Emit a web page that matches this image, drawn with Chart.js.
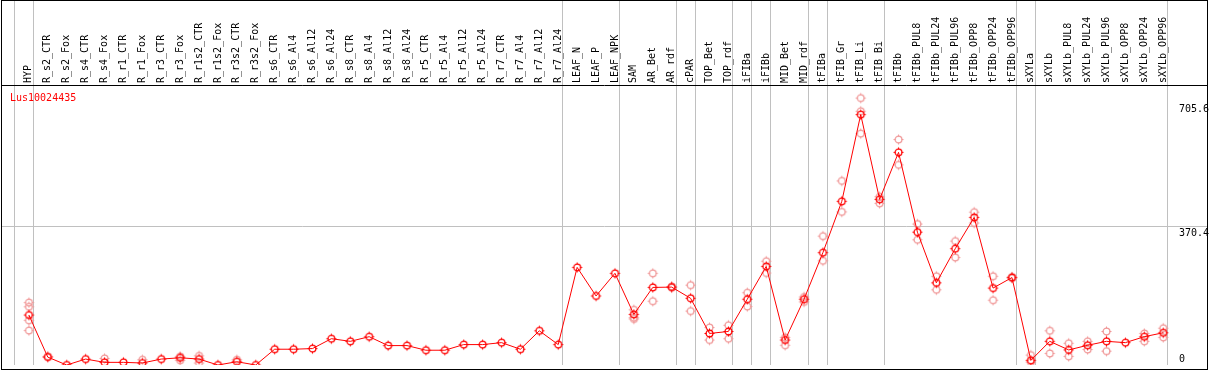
<!DOCTYPE html>
<html>
<head>
<meta charset="utf-8">
<script src="https://cdn.jsdelivr.net/npm/chart.js@4"></script>
<style>
  html, body { margin: 0; padding: 0; background: #fff; }
  #wrap { width: 1209px; height: 370px; }
</style>
</head>
<body>
<div id="wrap"><canvas id="exprChart"></canvas></div>
<script>
// Sample names (one per column)
const categories = [
  'HYP', 'R_s2_CTR', 'R_s2_Fox', 'R_s4_CTR', 'R_s4_Fox', 'R_r1_CTR', 'R_r1_Fox', 'R_r3_CTR', 'R_r3_Fox',
  'R_r1s2_CTR', 'R_r1s2_Fox', 'R_r3s2_CTR', 'R_r3s2_Fox', 'R_s6_CTR', 'R_s6_Al4', 'R_s6_Al12', 'R_s6_Al24',
  'R_s8_CTR', 'R_s8_Al4', 'R_s8_Al12', 'R_s8_Al24', 'R_r5_CTR', 'R_r5_Al4', 'R_r5_Al12', 'R_r5_Al24',
  'R_r7_CTR', 'R_r7_Al4', 'R_r7_Al12', 'R_r7_Al24', 'LEAF_N', 'LEAF_P', 'LEAF_NPK', 'SAM', 'AR_Bet', 'AR_rdf',
  'cPAR', 'TOP_Bet', 'TOP_rdf', 'iFIBa', 'iFIBb', 'MID_Bet', 'MID_rdf', 'tFIBa', 'tFIB_Gr', 'tFIB_Li', 'tFIB_Bi',
  'tFIBb', 'tFIBb_PUL8', 'tFIBb_PUL24', 'tFIBb_PUL96', 'tFIBb_OPP8', 'tFIBb_OPP24', 'tFIBb_OPP96',
  'sXYLa', 'sXYLb', 'sXYLb_PUL8', 'sXYLb_PUL24', 'sXYLb_PUL96', 'sXYLb_OPP8', 'sXYLb_OPP24', 'sXYLb_OPP96'
];

const seriesName = 'Lus10024435';

// Mean expression per sample
const meanValues = [
  129.7, 15.5, -5.9, 10.2, 1.3, 1.3, -0.5, 10.2, 13.7, 10.2, -5.9, 3, -5.9,
  36.9, 36.9, 38.7, 65.5, 58.3, 70.9, 46.8, 46.8, 34.2, 34.2, 49.5, 49.5, 54.8, 36.9, 86.9, 49.5,
  259, 181.4, 242.9, 131.4, 204.6, 205.5, 175.2, 79.7, 85.1, 172.6, 261.6, 61.8, 172.6,
  299, 438.2, 673.6, 443.6, 571.2, 354.5, 217, 309.8, 394.6, 202.8, 231.4,
  6.7, 58.3, 35, 47.6, 58.3, 54.8, 70.9, 81.6
];

// Individual replicates (null = none visible)
const repHigh = [
  163.5, 17.4, null, null, 12, null, 8.4, null, 17.4, 19, null, 8.4, null,
  null, null, null, null, null, null, null, null, null, null, null, null, null, null, null, null,
  null, null, null, 143.9, 242.9, 207, 210.8, 95.8, 101.9, 190.2, 275.8, 69, 178.7,
  343.8, 493.6, 718.3, 450.8, 606, 376.7, 234.9, 330.4, 408.8, 234.9, 233,
  20.9, 86.9, 53, 58.3, 85.1, null, 79.7, 93.9
];
const repMid = [
  152, null, null, null, null, null, null, null, null, null, null, null, null,
  null, null, null, null, null, null, null, null, null, null, null, null, null, null, null, null,
  null, null, null, 122.5, null, null, null, null, null, null, null, null, null,
  null, null, 682.5, null, null, null, null, null, null, null, null,
  null, null, null, null, null, null, null, null
];
const repLow = [
  87.7, null, null, null, null, null, null, null, 6.7, -0.5, null, null, null,
  null, null, null, null, null, null, null, null, null, null, null, null, null, null, null, null,
  null, null, null, 119, 167.2, 204, 140.4, 61.8, 65.5, 152.8, 243.7, 47.6, 165.3,
  276.9, 409.6, 622, 432.8, 537.2, 333.9, 198.2, 285.7, 379.3, 169.9, 230,
  2, 25.4, 17.4, 36.1, 31.6, null, 58.3, 69
];
const repExtra = [115.3];

const yTickValues = [0, 370.4, 705.6];
// last column index of each sample group (separator drawn right after it)
const groupEnds = [-1, 0, 28, 31, 34, 35, 37, 38, 39, 41, 42, 45, 52, 53, 60];

const FONT = 'DejaVu Sans Mono';

function toPoints(values) {
  const pts = [];
  values.forEach((v, i) => {
    if (v !== null && v !== undefined) pts.push({ x: i, y: v });
  });
  return pts;
}

// circle marker with small ticks on four sides
function makeMarker(color) {
  const c = document.createElement('canvas');
  c.width = 13;
  c.height = 13;
  const g = c.getContext('2d');
  g.strokeStyle = color;
  g.lineWidth = 1.3;
  g.beginPath();
  g.arc(6.5, 6.5, 3.4, 0, Math.PI * 2);
  g.stroke();
  g.lineWidth = 1;
  g.beginPath();
  g.moveTo(6.5, 1.5); g.lineTo(6.5, 3.5);
  g.moveTo(6.5, 9.5); g.lineTo(6.5, 11.5);
  g.moveTo(1.5, 6.5); g.lineTo(3.5, 6.5);
  g.moveTo(9.5, 6.5); g.lineTo(11.5, 6.5);
  g.stroke();
  return c;
}

const mainMarker = makeMarker('#ff0000');
const repMarker = makeMarker('#f09898');

const decorations = {
  id: 'decorations',
  beforeDatasetsDraw(chart) {
    const ctx = chart.ctx;
    const x = chart.scales.x;
    const y = chart.scales.y;
    const area = chart.chartArea;
    ctx.save();
    ctx.strokeStyle = '#c0c0c0';
    ctx.lineWidth = 1;
    // group separators
    groupEnds.forEach(i => {
      const px = Math.round(x.getPixelForValue(i) + 4) + 0.5;
      ctx.beginPath();
      ctx.moveTo(px, 0);
      ctx.lineTo(px, area.bottom);
      ctx.stroke();
    });
    // middle gridline
    const gy = Math.round(y.getPixelForValue(yTickValues[1])) + 0.5;
    ctx.beginPath();
    ctx.moveTo(1, gy);
    ctx.lineTo(1208, gy);
    ctx.stroke();
    ctx.restore();
  },
  afterDraw(chart) {
    const ctx = chart.ctx;
    const y = chart.scales.y;
    const area = chart.chartArea;
    ctx.save();
    // frame
    ctx.strokeStyle = '#000';
    ctx.lineWidth = 1;
    ctx.strokeRect(1.5, 0.5, 1206, 369);
    ctx.beginPath();
    ctx.moveTo(1, area.top + 0.5);
    ctx.lineTo(1208, area.top + 0.5);
    ctx.stroke();
    // y labels, inside the plot on the right
    ctx.font = '10px "' + FONT + '"';
    ctx.fillStyle = '#000';
    ctx.textAlign = 'left';
    ctx.textBaseline = 'alphabetic';
    yTickValues.forEach(v => {
      let base = y.getPixelForValue(v) + 9.5;
      if (base > area.bottom - 3) base = area.bottom - 3;
      ctx.fillText(String(v), 1179, base);
    });
    // series name
    ctx.fillStyle = '#ff0000';
    ctx.fillText(seriesName, 10, 101);
    ctx.restore();
  }
};

new Chart(document.getElementById('exprChart'), {
  type: 'line',
  data: {
    datasets: [
      {
        label: seriesName,
        data: toPoints(meanValues),
        borderColor: '#ff0000',
        borderWidth: 1,
        pointStyle: mainMarker,
        pointRadius: 4,
        tension: 0,
        fill: false
      },
      { data: toPoints(repHigh), showLine: false, pointStyle: repMarker, pointRadius: 4 },
      { data: toPoints(repMid), showLine: false, pointStyle: repMarker, pointRadius: 4 },
      { data: toPoints(repLow), showLine: false, pointStyle: repMarker, pointRadius: 4 },
      { data: [{ x: 0, y: repExtra[0] }], showLine: false, pointStyle: repMarker, pointRadius: 4 }
    ]
  },
  options: {
    responsive: true,
    maintainAspectRatio: false,
    animation: false,
    events: [],
    layout: { padding: { left: 2, right: 2, top: 0, bottom: 1 } },
    scales: {
      x: {
        type: 'linear',
        position: 'top',
        min: -1.2632,
        max: 62.158,
        afterFit: scale => { scale.height = 85; },
        afterBuildTicks: scale => {
          scale.ticks = categories.map((c, i) => ({ value: i }));
        },
        grid: { display: false, drawTicks: false },
        border: { display: false },
        ticks: {
          autoSkip: false,
          minRotation: 90,
          maxRotation: 90,
          padding: 2,
          labelOffset: 12,
          color: '#000',
          font: { family: FONT, size: 10 },
          callback: value => categories[value]
        }
      },
      y: {
        display: false,
        min: -5.9,
        max: 753.9
      }
    },
    plugins: {
      legend: { display: false },
      tooltip: { enabled: false },
      title: { display: false }
    }
  },
  plugins: [decorations]
});
</script>
</body>
</html>
